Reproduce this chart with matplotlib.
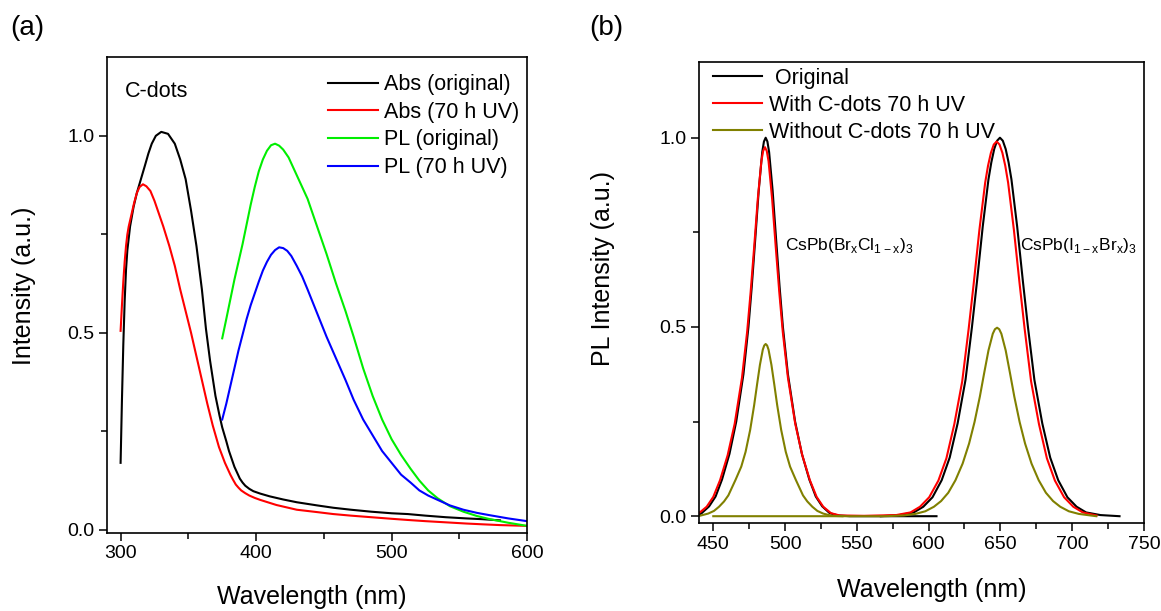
import matplotlib
matplotlib.use("Agg")
import matplotlib.pyplot as plt
from matplotlib.ticker import MultipleLocator

plt.rcParams["font.family"] = ["Liberation Sans", "DejaVu Sans"]

# ================= DATA (a): C-dots =================
abs_orig_wl = [300, 301, 302, 303, 304, 305, 307, 309.6, 312, 315, 318, 320.5, 323, 326, 330,
               335, 340, 344, 348, 352, 356, 360, 363, 366, 370, 373, 375, 378, 380, 382,
               384, 386, 388, 390, 392, 395, 398, 403, 410, 420, 430, 445, 457, 470, 485,
               500, 512, 525, 540, 555, 567, 580]
abs_orig = [0.17, 0.33, 0.47, 0.58, 0.66, 0.71, 0.77, 0.82, 0.855, 0.89, 0.925, 0.955, 0.98, 1.0, 1.01,
            1.005, 0.98, 0.94, 0.89, 0.81, 0.72, 0.61, 0.51, 0.43, 0.34, 0.29, 0.26, 0.225, 0.20, 0.18,
            0.16, 0.145, 0.13, 0.12, 0.112, 0.104, 0.098, 0.092, 0.085, 0.077, 0.07, 0.062, 0.056, 0.051, 0.046,
            0.042, 0.04, 0.036, 0.032, 0.029, 0.027, 0.024]

abs_uv_wl = [300, 301, 302, 303, 304, 305, 306, 308, 310, 312, 314, 316.5, 319, 322, 325, 328,
             331.5, 336, 340, 344, 348, 352, 356, 360, 364, 368, 372.6, 377, 379, 381, 383,
             385, 387, 389, 392, 395, 399, 403, 415, 430, 445, 457, 470, 485, 500, 512, 525,
             540, 555, 567, 580, 590, 600]
abs_uv = [0.505, 0.57, 0.63, 0.68, 0.72, 0.75, 0.77, 0.80, 0.83, 0.855, 0.87, 0.877, 0.872, 0.86, 0.835, 0.805,
          0.77, 0.72, 0.67, 0.61, 0.555, 0.50, 0.44, 0.38, 0.32, 0.265, 0.21, 0.17, 0.155, 0.14, 0.127,
          0.115, 0.107, 0.10, 0.093, 0.087, 0.081, 0.076, 0.063, 0.051, 0.045, 0.04, 0.036, 0.032, 0.028, 0.025, 0.022,
          0.019, 0.016, 0.014, 0.012, 0.011, 0.01]

pl_wl = [375, 378, 381, 384, 387, 390, 393, 396, 399, 402, 405, 408, 411, 414, 417, 420,
         424, 428, 432, 438, 445, 452, 459, 466, 472, 479, 486, 493, 500, 507, 514, 520.5,
         527, 534, 543, 553, 563, 572.6, 586, 600]
pl_orig = [0.486, 0.535, 0.585, 0.635, 0.68, 0.725, 0.775, 0.825, 0.87, 0.91, 0.94, 0.962, 0.976, 0.98, 0.975, 0.965,
           0.945, 0.915, 0.885, 0.84, 0.77, 0.70, 0.625, 0.555, 0.49, 0.41, 0.34, 0.28, 0.23, 0.19, 0.155, 0.125,
           0.10, 0.08, 0.06, 0.046, 0.035, 0.027, 0.018, 0.01]

pl_uv_wl = [375, 378, 381, 384, 387, 390, 393, 396, 399, 402, 405, 408, 411, 414, 417, 420,
            423, 426, 430, 434, 438, 445, 452, 459, 466, 472, 479, 486, 493, 500, 507, 514,
            520.5, 527, 534, 543, 553, 563, 572.6, 586, 600]
pl_uv = [0.28, 0.32, 0.365, 0.41, 0.455, 0.495, 0.535, 0.57, 0.60, 0.63, 0.658, 0.68, 0.698, 0.71, 0.717, 0.715,
         0.708, 0.695, 0.67, 0.643, 0.61, 0.55, 0.49, 0.435, 0.38, 0.33, 0.28, 0.24, 0.20, 0.17, 0.14, 0.12,
         0.10, 0.087, 0.076, 0.062, 0.051, 0.043, 0.037, 0.029, 0.022]

# ================= DATA (b): perovskite PL =================
# original, blue-green perovskite (first peak) and red perovskite (second peak)
orig_blue_wl = [440, 441.9, 447.1, 451.6, 456.1, 461.3, 466, 471, 474.5, 476.8, 479.2, 481.65, 484.1,
                485.3, 486.5, 487.7, 488.9, 491.35, 493.8, 496.2, 498.5, 502, 507, 511.7, 516.9,
                521.4, 525.9, 531.1, 536.9, 545, 560, 580, 605.5]
orig_blue = [0.004, 0.008, 0.026, 0.052, 0.097, 0.165, 0.25, 0.375, 0.50, 0.606, 0.73, 0.86, 0.962,
             0.99, 1.0, 0.99, 0.962, 0.86, 0.73, 0.606, 0.50, 0.375, 0.25, 0.165, 0.097,
             0.052, 0.026, 0.008, 0.002, 0.0, 0.0, 0.0, 0.0]

orig_red_wl = [566.7, 579.7, 589.7, 596.3, 602.7, 609.1, 614.7, 620.2, 625.7, 630.2, 633.7, 637.7,
               641.7, 643.7, 645.7, 647.7, 649.7, 651.7, 653.7, 655.7, 657.7, 661.7, 665.7,
               669.2, 673.7, 679.2, 684.7, 690.3, 696.7, 703.1, 709.7, 719.7, 733]
orig_red = [0.0, 0.003, 0.01, 0.025, 0.05, 0.095, 0.155, 0.245, 0.36, 0.50, 0.62, 0.765,
            0.89, 0.935, 0.97, 0.992, 1.0, 0.992, 0.97, 0.935, 0.89, 0.765, 0.62,
            0.50, 0.36, 0.245, 0.155, 0.095, 0.05, 0.025, 0.01, 0.003, 0.0]

with_wl = [440, 445.4, 450, 454.7, 460, 464.9, 470, 473.6, 476, 478.5, 481, 483.5, 484.75, 486,
           487.25, 488.5, 491, 493.5, 496, 498.4, 502, 507.1, 512, 517.3, 522, 526.6, 532, 538,
           555, 577.4, 587.4, 594, 600.4, 606.8, 612.4, 617.9, 623.4, 627.9, 631.4, 635.4,
           639.4, 641.4, 643.4, 645.4, 647.4, 649.4, 651.4, 653.4, 655.4, 659.4, 663.4, 666.9,
           671.4, 676.9, 682.4, 688, 694.4, 700.8, 707.4, 717]
with_cd = [0.008, 0.025, 0.051, 0.095, 0.161, 0.244, 0.366, 0.4875, 0.591, 0.712, 0.838, 0.938, 0.965, 0.975,
           0.965, 0.938, 0.838, 0.712, 0.591, 0.4875, 0.366, 0.244, 0.161, 0.095, 0.051, 0.025, 0.008, 0.002,
           0.001, 0.003, 0.01, 0.025, 0.05, 0.094, 0.153, 0.243, 0.356, 0.495, 0.614, 0.757,
           0.881, 0.926, 0.96, 0.982, 0.99, 0.982, 0.96, 0.926, 0.881, 0.757, 0.614, 0.495,
           0.356, 0.243, 0.153, 0.094, 0.05, 0.025, 0.01, 0.002]

without_blue_wl = [440.5, 446.5, 450.5, 454, 457.5, 460.5, 465.5, 469.5, 472.5, 475.7, 478.5, 480.5,
                   482.5, 484.5, 485.5, 486.5, 487.5, 488.5, 490.5, 492.5, 494.5, 497.3, 500.5,
                   503.5, 507.5, 512.5, 515.5, 519, 522.5, 526.5, 532.5, 540]
without_blue = [0.001, 0.007, 0.014, 0.025, 0.039, 0.055, 0.096, 0.131, 0.17, 0.228, 0.294, 0.348,
                0.40, 0.44, 0.451, 0.455, 0.451, 0.44, 0.40, 0.348, 0.294, 0.228, 0.17,
                0.131, 0.096, 0.055, 0.039, 0.025, 0.014, 0.007, 0.001, 0.0]

without_red_wl = [450, 570, 582.7, 590.7, 597.7, 603.7, 608.7, 613.7, 618.7, 623.7, 628.2, 632,
                  635.7, 638.7, 641.7, 644.7, 646.2, 647.7, 649.2, 650.7, 653.7, 656.7, 659.7,
                  663.4, 667.2, 671.7, 676.7, 681.7, 686.7, 691.7, 697.7, 704.7, 712.7, 716.8]
without_red = [0.0, 0.0, 0.002, 0.006, 0.013, 0.025, 0.04, 0.062, 0.095, 0.139, 0.192, 0.249,
               0.316, 0.378, 0.438, 0.482, 0.494, 0.498, 0.494, 0.482, 0.438, 0.378, 0.316,
               0.249, 0.192, 0.139, 0.095, 0.062, 0.04, 0.025, 0.013, 0.006, 0.002, 0.0]

LW = 1.5
TICK_FS = 14
LABEL_FS = 18
LEG_FS = 15.5


def style_axes(ax):
    for s in ax.spines.values():
        s.set_linewidth(1.2)
    ax.tick_params(which="both", direction="out", top=False, right=False,
                   labelsize=TICK_FS, width=1.1, pad=3)
    ax.tick_params(which="major", length=6)
    ax.tick_params(which="minor", length=4)
    ax.yaxis.set_major_locator(MultipleLocator(0.5))
    ax.yaxis.set_minor_locator(MultipleLocator(0.25))


fig = plt.figure(figsize=(11.61, 6.11), dpi=100)

# ================= PANEL (a) =================
ax1 = fig.add_axes([0.0922, 0.1277, 0.3618, 0.779])
ax1.plot(abs_orig_wl, abs_orig, color="black", lw=LW, label="Abs (original)")
ax1.plot(abs_uv_wl, abs_uv, color="#ff0000", lw=LW, label="Abs (70 h UV)")
ax1.plot(pl_wl, pl_orig, color="#00ee00", lw=LW, label="PL (original)")
ax1.plot(pl_uv_wl, pl_uv, color="#0000ff", lw=LW, label="PL (70 h UV)")
ax1.set_xlim(290, 600)
ax1.set_ylim(-0.008, 1.2)
ax1.xaxis.set_major_locator(MultipleLocator(100))
ax1.xaxis.set_minor_locator(MultipleLocator(50))
style_axes(ax1)
ax1.set_xlabel("Wavelength (nm)", fontsize=LABEL_FS)
ax1.set_ylabel("Intensity (a.u.)", fontsize=LABEL_FS)
ax1.xaxis.set_label_coords(0.488, -0.109)
ax1.yaxis.set_label_coords(-0.169, 0.52)
ax1.text(303.3, 1.099, "C-dots", fontsize=LEG_FS, va="baseline")
ax1.legend(loc="upper left", bbox_to_anchor=(0.526, 0.964), frameon=False,
           fontsize=LEG_FS, handlelength=2.3, handletextpad=0.28,
           labelspacing=0.31, borderpad=0, borderaxespad=0)

# ================= PANEL (b) =================
ax2 = fig.add_axes([0.602, 0.144, 0.3833, 0.7545])
ax2.plot(orig_blue_wl, orig_blue, color="black", lw=LW, label=" Original")
ax2.plot(orig_red_wl, orig_red, color="black", lw=LW)
ax2.plot(with_wl, with_cd, color="#ff0000", lw=LW, label="With C-dots 70 h UV")
ax2.plot(without_blue_wl, without_blue, color="#808000", lw=LW, label="Without C-dots 70 h UV")
ax2.plot(without_red_wl, without_red, color="#808000", lw=LW)
ax2.set_xlim(440, 750)
ax2.set_ylim(-0.018, 1.2)
ax2.xaxis.set_major_locator(MultipleLocator(50))
ax2.xaxis.set_minor_locator(MultipleLocator(25))
style_axes(ax2)
ax2.set_xlabel("Wavelength (nm)", fontsize=LABEL_FS)
ax2.set_ylabel("PL Intensity (a.u.)", fontsize=LABEL_FS)
ax2.xaxis.set_label_coords(0.524, -0.119)
ax2.yaxis.set_label_coords(-0.189, 0.553)
ax2.text(500, 0.704, r"CsPb(Br$_\mathregular{x}$Cl$_\mathregular{1-x}$)$_\mathregular{3}$",
         fontsize=12.5, va="baseline")
ax2.text(663.4, 0.704, r"CsPb(I$_\mathregular{1-x}$Br$_\mathregular{x}$)$_\mathregular{3}$",
         fontsize=12.5, va="baseline")
ax2.legend(loc="upper left", bbox_to_anchor=(0.0315, 0.987), frameon=False,
           fontsize=LEG_FS, handlelength=2.3, handletextpad=0.3,
           labelspacing=0.27, borderpad=0, borderaxespad=0)

fig.text(10 / 1161, 1 - 15 / 611, "(a)", fontsize=20, va="top", ha="left")
fig.text(589 / 1161, 1 - 15 / 611, "(b)", fontsize=20, va="top", ha="left")

fig.savefig("out.png", dpi=100)
